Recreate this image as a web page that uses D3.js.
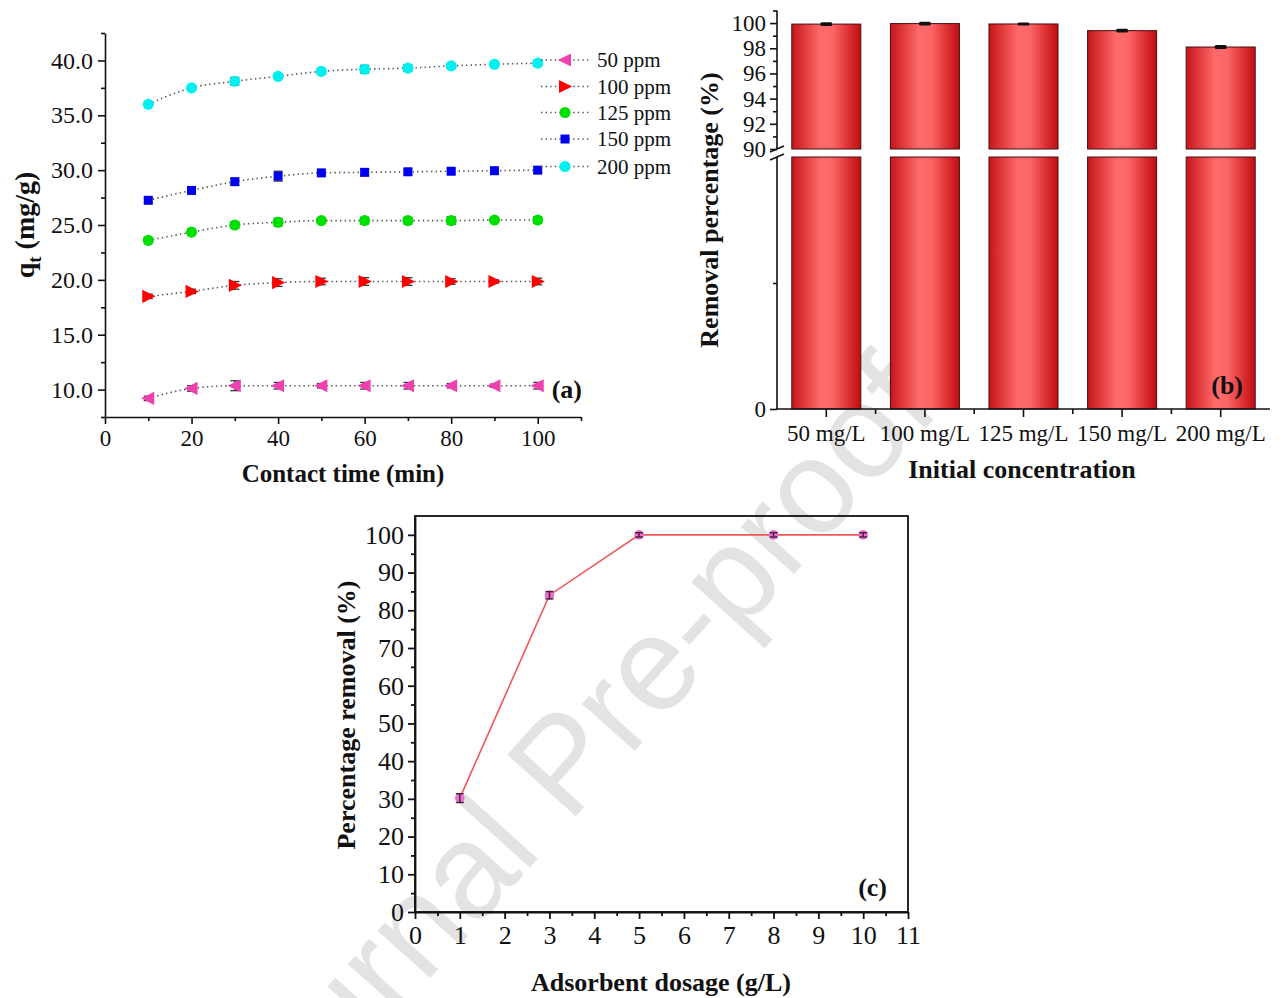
<!DOCTYPE html>
<html><head><meta charset="utf-8">
<script src="https://cdn.jsdelivr.net/npm/d3@7"></script>
<style>
html,body{margin:0;padding:0;background:#fff;}
svg{display:block;}
text{font-family:"Liberation Serif","Times New Roman",serif;fill:#111;}
</style></head>
<body>
<svg id="chart" width="1284" height="998"></svg>
<script>
// ---------- Panel (a) data ----------
const timeA = [10,20,30,40,50,60,70,80,90,100];
const seriesA = ["50 ppm","100 ppm","125 ppm","150 ppm","200 ppm"];
const q50  = [9.2,10.1,10.35,10.35,10.35,10.35,10.35,10.35,10.35,10.35];
const q100 = [18.5,18.95,19.5,19.75,19.85,19.85,19.85,19.85,19.85,19.85];
const q125 = [23.6,24.35,25.0,25.25,25.4,25.4,25.4,25.4,25.45,25.45];
const q150 = [27.25,28.15,28.95,29.45,29.75,29.8,29.85,29.9,29.95,30.0];
const q200 = [36.0,37.5,38.1,38.55,39.0,39.2,39.3,39.5,39.65,39.75];
const e50  = [0.2,0.25,0.45,0.3,0.2,0.3,0.3,0.2,0.15,0.3];
const e100 = [0.2,0.2,0.35,0.35,0.3,0.35,0.35,0.25,0.15,0.3];
const e125 = [0.25,0.25,0.3,0.35,0.2,0.3,0.3,0.35,0.2,0.3];
const e150 = [0.2,0.2,0.3,0.45,0.2,0.3,0.25,0.2,0.15,0.3];
const e200 = [0.15,0.2,0.35,0.2,0.2,0.35,0.3,0.2,0.15,0.25];
const colorsA = ["#f040b0","#ff0000","#00e000","#0000ee","#00f0f0"];
const shapesA = ["triLeft","triRight","circle","square","circle"];
const xTicksA = [0,20,40,60,80,100];
const yTicksA = [10,15,20,25,30,35,40];

// ---------- Panel (b) data ----------
const concB = ["50 mg/L","100 mg/L","125 mg/L","150 mg/L","200 mg/L"];
const removalB = [99.92,99.96,99.93,99.4,98.1];
const errB = [0.05,0.05,0.03,0.06,0.06];
const yTicksBUp = [90,92,94,96,98,100];
const yTicksBLow = [0];

// ---------- Panel (c) data ----------
const doseC = [1,3,5,8,10];
const removalC = [30.2,84.0,100,100,100];
const errC = [0.9,0.7,0.3,0.3,0.3];
const xTicksC = [0,1,2,3,4,5,6,7,8,9,10,11];
const yTicksC = [0,10,20,30,40,50,60,70,80,90,100];

const svg = d3.select("#chart");
const AX = "#111";

// ---------- Watermark (behind) ----------
svg.append("text")
  .attr("transform","translate(596,794) rotate(-48)")
  .attr("text-anchor","middle")
  .style("font-family","'Liberation Sans',Arial,sans-serif")
  .style("font-size","134px")
  .style("fill","#e3e3e3")
  .text("Journal Pre-proof");

// marker path helper
function markerPath(shape, s){
  if(shape==="circle") return d3.symbol(d3.symbolCircle, s*s*0.8)();
  if(shape==="square") return `M${-s/2},${-s/2}h${s}v${s}h${-s}Z`;
  if(shape==="triLeft") return `M${-s*0.6},0L${s*0.5},${-s*0.55}L${s*0.5},${s*0.55}Z`;
  if(shape==="triRight") return `M${s*0.6},0L${-s*0.5},${-s*0.55}L${-s*0.5},${s*0.55}Z`;
}

// =================== Panel (a) ===================
{
  const x = d3.scaleLinear().domain([0,110]).range([105,581]);
  const y = d3.scaleLinear().domain([7.5,42.5]).range([417,33]);
  const g = svg.append("g");
  const vals = [q50,q100,q125,q150,q200];
  const errs = [e50,e100,e125,e150,e200];
  const line = d3.line().x(d=>x(d[0])).y(d=>y(d[1])).curve(d3.curveMonotoneX);
  vals.forEach((v,i)=>{
    const pts = timeA.map((t,j)=>[t,v[j],errs[i][j]]);
    g.append("path").attr("d",line(pts)).attr("fill","none")
      .attr("stroke","#555").attr("stroke-width",1.6).attr("stroke-dasharray","1.4,3.2");
    const eg = g.append("g");
    pts.forEach(p=>{
      eg.append("line").attr("x1",x(p[0])).attr("x2",x(p[0])).attr("y1",y(p[1]+p[2])).attr("y2",y(p[1]-p[2]))
        .attr("stroke","#333").attr("stroke-width",1.3);
      [p[1]+p[2],p[1]-p[2]].forEach(yy=>eg.append("line").attr("x1",x(p[0])-4.5).attr("x2",x(p[0])+4.5)
        .attr("y1",y(yy)).attr("y2",y(yy)).attr("stroke","#333").attr("stroke-width",1.3));
    });
    g.selectAll(null).data(pts).enter().append("path")
      .attr("transform",d=>`translate(${x(d[0])},${y(d[1])})`)
      .attr("d",markerPath(shapesA[i], shapesA[i]==="circle"?11:(shapesA[i]==="square"?9:12)))
      .attr("fill",colorsA[i]);
  });
  // axes
  const xa = g.append("g").attr("transform","translate(0,417)")
    .call(d3.axisBottom(x).tickValues(xTicksA).tickSize(7).tickSizeOuter(0).tickPadding(6));
  xa.selectAll("text").style("font-size","23px");
  g.append("g").attr("transform","translate(0,417)")
    .call(d3.axisBottom(x).tickValues([10,30,50,70,90,110]).tickSize(4).tickFormat("").tickSizeOuter(0))
    .select(".domain").remove();
  const ya = g.append("g").attr("transform","translate(105,0)")
    .call(d3.axisLeft(y).tickValues(yTicksA).tickFormat(d3.format(".1f")).tickSize(7).tickSizeOuter(0).tickPadding(5));
  ya.selectAll("text").style("font-size","24px");
  g.append("g").attr("transform","translate(105,0)")
    .call(d3.axisLeft(y).tickValues([7.5,12.5,17.5,22.5,27.5,32.5,37.5,42.5]).tickSize(4).tickFormat("").tickSizeOuter(0))
    .select(".domain").remove();
  g.selectAll(".domain,.tick line").attr("stroke",AX).attr("stroke-width",1.6);
  g.append("text").attr("x",343).attr("y",482).attr("text-anchor","middle")
    .style("font-size","25px").style("font-weight","bold").text("Contact time (min)");
  const yl = g.append("text").attr("transform","translate(34,225) rotate(-90)").attr("text-anchor","middle")
    .style("font-size","28px").style("font-weight","bold");
  yl.append("tspan").text("q");
  yl.append("tspan").attr("dy",7).style("font-size","19px").text("t");
  yl.append("tspan").attr("dy",-7).text(" (mg/g)");
  g.append("text").attr("x",582).attr("y",398).attr("text-anchor","end")
    .style("font-size","26px").style("font-weight","bold").text("(a)");
  // legend
  const legY = [60,86.5,112.5,139,166.5];
  seriesA.forEach((nm,i)=>{
    const lg = g.append("g").attr("transform",`translate(0,${legY[i]})`);
    lg.append("line").attr("x1",541).attr("x2",591).attr("stroke","#555")
      .attr("stroke-width",1.6).attr("stroke-dasharray","1.4,3.2");
    lg.append("path").attr("transform","translate(565,0)")
      .attr("d",markerPath(shapesA[i], shapesA[i]==="circle"?11:(shapesA[i]==="square"?9:12))).attr("fill",colorsA[i]);
    lg.append("text").attr("x",597).attr("y",7).style("font-size","21px").text(nm);
  });
}

// =================== Panel (b) ===================
{
  const x = d3.scaleBand().domain(concB).range([777,1270]).paddingInner(0.3).paddingOuter(0.15);
  const yU = d3.scaleLinear().domain([90,101]).range([149,10.5]);
  const yL = d3.scaleLinear().domain([0,90]).range([409,157]);
  const g = svg.append("g");
  const defs = svg.append("defs");
  const gr = defs.append("linearGradient").attr("id","barGrad").attr("x1","0").attr("x2","1").attr("y1","0").attr("y2","0");
  [[0,"#c3161c"],[0.18,"#e0393b"],[0.42,"#ff6b6b"],[0.6,"#fb6565"],[0.85,"#d92a2e"],[1,"#bb0f14"]]
    .forEach(s=>gr.append("stop").attr("offset",s[0]).attr("stop-color",s[1]));
  // lower segment
  g.selectAll(".barL").data(concB).enter().append("rect")
    .attr("x",d=>x(d)).attr("width",x.bandwidth())
    .attr("y",yL(90)).attr("height",yL(0)-yL(90))
    .attr("fill","url(#barGrad)").attr("stroke","#4a0c0c").attr("stroke-width",1);
  // upper segment
  g.selectAll(".barU").data(concB).enter().append("rect")
    .attr("x",d=>x(d)).attr("width",x.bandwidth())
    .attr("y",(d,i)=>yU(removalB[i])).attr("height",(d,i)=>yU(90)-yU(removalB[i]))
    .attr("fill","url(#barGrad)").attr("stroke","#4a0c0c").attr("stroke-width",1);
  // error bars
  concB.forEach((c,i)=>{
    const cx = x(c)+x.bandwidth()/2;
    g.append("rect").attr("x",cx-6).attr("width",12)
      .attr("y",yU(removalB[i]+errB[i])-1.2).attr("height",yU(removalB[i]-errB[i])-yU(removalB[i]+errB[i])+2.4)
      .attr("rx",1.5).attr("fill","#111");
  });
  // axes
  const ya = g.append("g").attr("transform","translate(777,0)")
    .call(d3.axisLeft(yU).tickValues(yTicksBUp).tickSize(7).tickSizeOuter(0).tickPadding(4));
  ya.select(".domain").attr("d","M0,149V10.5");
  ya.selectAll("text").style("font-size","23px");
  g.append("g").attr("transform","translate(777,0)")
    .call(d3.axisLeft(yU).tickValues([91,93,95,97,99,101]).tickSize(4).tickFormat("").tickSizeOuter(0))
    .select(".domain").remove();
  const yb = g.append("g").attr("transform","translate(777,0)")
    .call(d3.axisLeft(yL).tickValues(yTicksBLow).tickSize(7).tickSizeOuter(0).tickPadding(4));
  yb.select(".domain").attr("d","M0,409V157");
  yb.selectAll("text").style("font-size","23px");
  g.append("g").attr("transform","translate(777,0)")
    .call(d3.axisLeft(yL).tickValues([45]).tickSize(4).tickFormat("").tickSizeOuter(0))
    .select(".domain").remove();
  const xa = g.append("g").attr("transform","translate(0,409)")
    .call(d3.axisBottom(x).tickSize(8).tickSizeOuter(0).tickPadding(8));
  xa.select(".domain").attr("d","M777,0H1270");
  xa.selectAll("text").style("font-size","23px");
  // minor ticks at category boundaries
  const step = x.step();
  const bounds = concB.slice(1).map(c=>x(c)-(step-x.bandwidth())/2);
  g.selectAll(".bt").data(bounds).enter().append("line")
    .attr("x1",d=>d).attr("x2",d=>d).attr("y1",409).attr("y2",414).attr("stroke",AX).attr("stroke-width",1.6);
  g.selectAll(".domain,.tick line").attr("stroke",AX).attr("stroke-width",1.6);
  // break marks
  [149,157].forEach(yy=>g.append("line").attr("x1",770).attr("x2",784).attr("y1",yy+3).attr("y2",yy-3)
    .attr("stroke",AX).attr("stroke-width",1.6));
  g.append("text").attr("x",1022).attr("y",478).attr("text-anchor","middle")
    .style("font-size","26px").style("font-weight","bold").text("Initial concentration");
  g.append("text").attr("transform","translate(718,210) rotate(-90)").attr("text-anchor","middle")
    .style("font-size","26px").style("font-weight","bold").text("Removal percentage (%)");
  g.append("text").attr("x",1243).attr("y",394).attr("text-anchor","end")
    .style("font-size","26px").style("font-weight","bold").text("(b)");
}

// =================== Panel (c) ===================
{
  const x = d3.scaleLinear().domain([0,11]).range([415,908]);
  const y = d3.scaleLinear().domain([0,105]).range([912,516]);
  const g = svg.append("g");
  g.append("rect").attr("x",415).attr("y",516).attr("width",908-415).attr("height",912-516)
    .attr("fill","none").attr("stroke",AX).attr("stroke-width",1.8);
  const pts = doseC.map((d,i)=>[d,removalC[i],errC[i]]);
  g.append("path").attr("d",d3.line().x(d=>x(d[0])).y(d=>y(d[1]))(pts))
    .attr("fill","none").attr("stroke","#f05858").attr("stroke-width",1.6);
  pts.forEach(p=>{
    g.append("circle").attr("cx",x(p[0])).attr("cy",y(p[1])).attr("r",4.8).attr("fill","#e870c8");
    g.append("line").attr("x1",x(p[0])).attr("x2",x(p[0])).attr("y1",y(p[1]+p[2])-1).attr("y2",y(p[1]-p[2])+1)
      .attr("stroke","#4a1a40").attr("stroke-width",1.4);
    [p[1]+p[2],p[1]-p[2]].forEach((yy,k)=>g.append("line").attr("x1",x(p[0])-4).attr("x2",x(p[0])+4)
      .attr("y1",y(yy)+(k?1:-1)).attr("y2",y(yy)+(k?1:-1)).attr("stroke","#4a1a40").attr("stroke-width",1.4));
  });
  const xa = g.append("g").attr("transform","translate(0,912)")
    .call(d3.axisBottom(x).tickValues(xTicksC).tickSize(7).tickSizeOuter(0).tickPadding(7));
  xa.selectAll("text").style("font-size","26px");
  g.append("g").attr("transform","translate(0,912)")
    .call(d3.axisBottom(x).tickValues(d3.range(0.5,11,1)).tickSize(4).tickFormat("").tickSizeOuter(0))
    .select(".domain").remove();
  const ya = g.append("g").attr("transform","translate(415,0)")
    .call(d3.axisLeft(y).tickValues(yTicksC).tickSize(7).tickSizeOuter(0).tickPadding(4));
  ya.selectAll("text").style("font-size","26px");
  g.append("g").attr("transform","translate(415,0)")
    .call(d3.axisLeft(y).tickValues(d3.range(5,105,10)).tickSize(4).tickFormat("").tickSizeOuter(0))
    .select(".domain").remove();
  g.selectAll(".domain,.tick line").attr("stroke",AX).attr("stroke-width",1.8);
  g.append("text").attr("x",661).attr("y",991).attr("text-anchor","middle")
    .style("font-size","26px").style("font-weight","bold").text("Adsorbent dosage (g/L)");
  g.append("text").attr("transform","translate(355,715) rotate(-90)").attr("text-anchor","middle")
    .style("font-size","26px").style("font-weight","bold").text("Percentage removal (%)");
  g.append("text").attr("x",887).attr("y",896).attr("text-anchor","end")
    .style("font-size","26px").style("font-weight","bold").text("(c)");
}
</script>
</body></html>
